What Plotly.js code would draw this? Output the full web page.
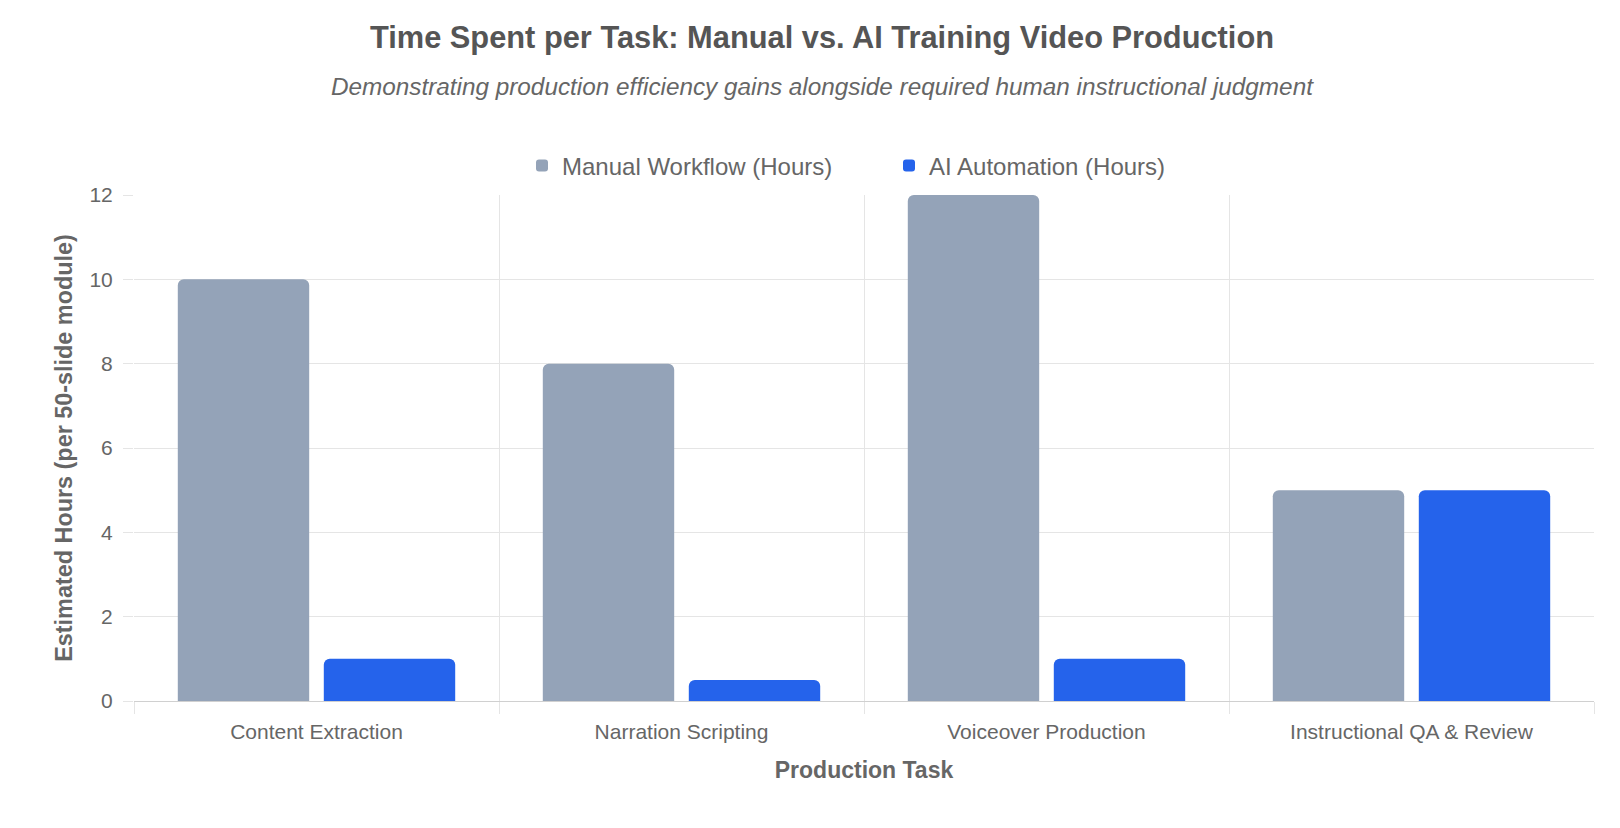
<!DOCTYPE html>
<html>
<head>
<meta charset="utf-8">
<script src="https://cdn.plot.ly/plotly-3.0.1.min.js"></script>
<style>
  html, body { margin: 0; padding: 0; background: #fff; }
  #chart { width: 1620px; height: 828px; }
</style>
</head>
<body>
<div id="chart"></div>
<script>
// chart data
var tasks = ['Content Extraction', 'Narration Scripting', 'Voiceover Production', 'Instructional QA & Review'];
var manualHours = [10, 8, 12, 5];
var aiHours = [1, 0.5, 1, 5];
var yTicks = [0, 2, 4, 6, 8, 10, 12];

var textColor = '#666666';
var gridColor = '#e5e5e5';
var fontFamily = '"Liberation Sans", Arial, Helvetica, sans-serif';

// plot box in pixels (canvas is 1620 x 828)
var mL = 134, mR = 26, mT = 195, mB = 127;
var plotW = 1620 - mL - mR, plotH = 828 - mT - mB;
var centerX = 822; // title centre line
var legendX = 889; // legend anchor (box is wider than its text)

var traces = [
  {
    x: tasks,
    y: manualHours,
    name: 'Manual Workflow (Hours)',
    type: 'bar',
    marker: { color: '#94a3b8', cornerradius: 6 },
    hoverinfo: 'x+y+name'
  },
  {
    x: tasks,
    y: aiHours,
    name: 'AI Automation (Hours)',
    type: 'bar',
    marker: { color: '#2563eb', cornerradius: 6 },
    hoverinfo: 'x+y+name'
  }
];

var layout = {
  width: 1620,
  height: 828,
  margin: { t: mT, b: mB, l: mL, r: mR },
  paper_bgcolor: '#ffffff',
  plot_bgcolor: '#ffffff',
  font: { family: fontFamily, color: textColor, size: 21 },
  barmode: 'group',
  bargap: 0.2,
  bargroupgap: 0.1,
  title: {
    text: '<b>Time Spent per Task: Manual vs. AI Training Video Production</b>',
    font: { size: 30.8, color: '#555555', family: fontFamily },
    x: centerX / 1620,
    xanchor: 'center',
    y: 1 - 37.5 / 828,
    yanchor: 'middle'
  },
  annotations: [{
    text: '<i>Demonstrating production efficiency gains alongside required human instructional judgment</i>',
    xref: 'paper', yref: 'paper',
    x: (centerX - mL) / plotW, y: 1 + (mT - 87) / plotH,
    xanchor: 'center', yanchor: 'middle',
    showarrow: false,
    font: { size: 24.3, color: textColor }
  }],
  legend: {
    orientation: 'h',
    x: (legendX - mL) / plotW, xanchor: 'center',
    y: 1 + (mT - 166) / plotH, yanchor: 'middle',
    font: { size: 24, color: textColor },
    entrywidth: 322,
    traceorder: 'normal'
  },
  xaxis: {
    type: 'category',
    tickson: 'boundaries',
    showgrid: true,
    gridcolor: gridColor,
    gridwidth: 1,
    ticks: 'outside',
    ticklen: 12,
    tickcolor: gridColor,
    ticklabelstandoff: 12,
    showline: true,
    linecolor: '#d0d0d0',
    tickfont: { size: 21, color: textColor },
    title: {
      text: '<b>Production Task</b>',
      font: { size: 23, color: textColor },
      standoff: 19
    },
    fixedrange: true
  },
  yaxis: {
    range: [0, 12],
    tickvals: yTicks,
    showgrid: true,
    gridcolor: gridColor,
    zeroline: false,
    ticks: 'outside',
    ticklen: 10,
    tickcolor: gridColor,
    ticklabelstandoff: 6,
    showline: false,
    tickfont: { size: 21, color: textColor },
    title: {
      text: '<b>Estimated Hours (per 50-slide module)</b>',
      font: { size: 23.4, color: textColor },
      standoff: 10
    },
    fixedrange: true
  }
};

Plotly.newPlot('chart', traces, layout, { displayModeBar: false, responsive: false });
</script>
</body>
</html>
